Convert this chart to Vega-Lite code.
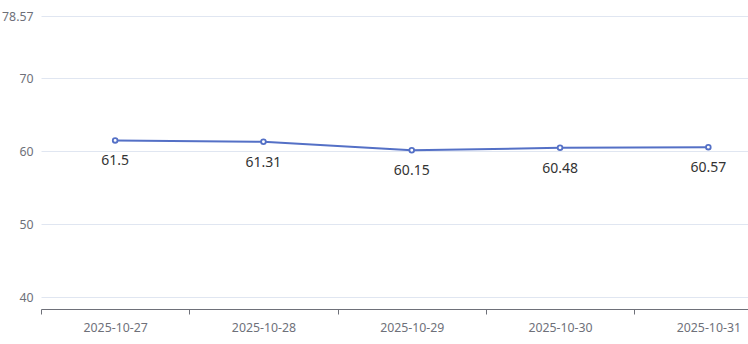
{
  "$schema": "https://vega.github.io/schema/vega-lite/v6.json",
  "width": 707,
  "height": 293,
  "autosize": {"type": "none"},
  "padding": {"left": 41, "top": 16, "right": 0, "bottom": 35},
  "config": {"view": {"stroke": null}, "font": "Noto Sans"},
  "data": {
    "values": [
      {"date": "2025-10-27", "value": 61.5},
      {"date": "2025-10-28", "value": 61.31},
      {"date": "2025-10-29", "value": 60.15},
      {"date": "2025-10-30", "value": 60.48},
      {"date": "2025-10-31", "value": 60.57}
    ]
  },
  "encoding": {
    "x": {
      "field": "date",
      "type": "ordinal",
      "title": null,
      "scale": {"type": "band", "range": [0, 741.5], "paddingInner": 0, "paddingOuter": 0},
      "axis": {
        "labelAngle": 0,
        "tickBand": "extent",
        "grid": false,
        "domainColor": "#6e7079",
        "tickColor": "#6e7079",
        "tickSize": 5,
        "labelPadding": 7,
        "labelColor": "#6e7079",
        "labelFontSize": 12.3,
        "labelFont": "Noto Sans"
      }
    },
    "y": {
      "field": "value",
      "type": "quantitative",
      "title": null,
      "scale": {"domain": [38.36, 78.57], "nice": false, "zero": false},
      "axis": {
        "values": [40, 50, 60, 70, 78.57],
        "format": ".4~r",
        "domain": false,
        "ticks": false,
        "gridColor": "#e0e6f1",
        "labelColor": "#6e7079",
        "labelFontSize": 12.3,
        "labelPadding": 8,
        "labelFont": "Noto Sans"
      }
    }
  },
  "layer": [
    {"mark": {"type": "line", "color": "#5470c6", "strokeWidth": 2}},
    {"mark": {"type": "point", "shape": "circle", "size": 22, "filled": true, "fill": "white", "stroke": "#5470c6", "strokeWidth": 1.8, "opacity": 1}},
    {"mark": {"type": "text", "dy": 21, "fontSize": 14, "color": "#333333", "font": "Noto Sans"}, "encoding": {"text": {"field": "value", "type": "quantitative"}}}
  ]
}
